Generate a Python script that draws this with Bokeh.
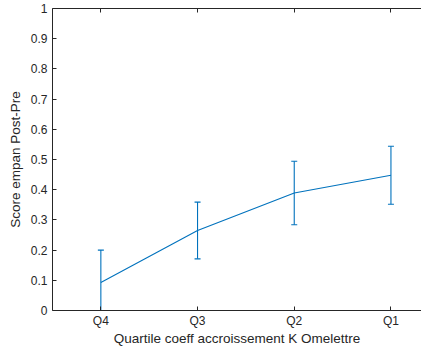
from bokeh.plotting import figure
from bokeh.models import FixedTicker, LinearAxis, Range1d, ColumnDataSource
from bokeh.embed import file_html
from bokeh.resources import INLINE

categories = ["Q4", "Q3", "Q2", "Q1"]
positions = [1, 2, 3, 4]
means = [0.093, 0.265, 0.389, 0.448]
errors = [0.107, 0.094, 0.105, 0.096]
y_ticks = [0, 0.1, 0.2, 0.3, 0.4, 0.5, 0.6, 0.7, 0.8, 0.9, 1.0]
y_tick_labels = ["0", "0.1", "0.2", "0.3", "0.4", "0.5", "0.6", "0.7", "0.8", "0.9", "1"]

lower = [m - e for m, e in zip(means, errors)]
upper = [m + e for m, e in zip(means, errors)]
src = ColumnDataSource(dict(x=positions, m=means, lo=lower, hi=upper))

BLUE = "#0072BD"
AX = "#262626"
FONT = "Liberation Sans"

p = figure(width=421, height=348, output_backend="svg", toolbar_location=None,
           x_range=Range1d(0.5, 4.316), y_range=Range1d(0, 1),
           min_border_left=52, min_border_right=0, min_border_top=8, min_border_bottom=34)
p.outline_line_color = None
p.xgrid.visible = False
p.ygrid.visible = False
p.background_fill_color = "white"
p.border_fill_color = "white"

p.line("x", "m", source=src, line_color=BLUE, line_width=1.1)
p.segment(x0="x", y0="lo", x1="x", y1="hi", source=src, line_color=BLUE, line_width=1.1)
p.scatter("x", "hi", source=src, marker="dash", size=6, line_color=BLUE, line_width=1.1)
p.scatter("x", "lo", source=src, marker="dash", size=6, line_color=BLUE, line_width=1.1)

xa = p.xaxis[0]
xa.ticker = FixedTicker(ticks=positions)
xa.major_label_overrides = {pos: c for pos, c in zip(positions, categories)}
xa.axis_label = "Quartile coeff accroissement K Omelettre"

ya = p.yaxis[0]
ya.ticker = FixedTicker(ticks=y_ticks)
ya.major_label_overrides = {t: l for t, l in zip(y_ticks, y_tick_labels)}
ya.axis_label = "Score empan Post-Pre"

for ax in (xa, ya):
    ax.axis_line_color = AX
    ax.major_tick_line_color = AX
    ax.major_tick_in = 4
    ax.major_tick_out = 0
    ax.minor_tick_line_color = None
    ax.major_label_text_font = FONT
    ax.major_label_text_font_size = "12px"
    ax.major_label_text_color = AX
    ax.axis_label_text_font = FONT
    ax.axis_label_text_font_size = "13.5px"
    ax.axis_label_text_color = AX
    ax.axis_label_text_font_style = "normal"

xa.major_label_standoff = 3
xa.axis_label_standoff = 0
ya.major_label_standoff = 5
ya.axis_label_standoff = 5

top = LinearAxis(ticker=FixedTicker(ticks=positions))
top.axis_line_color = AX
top.major_tick_line_color = AX
top.major_tick_in = 4
top.major_tick_out = 0
top.minor_tick_line_color = None
top.major_label_overrides = {pos: "" for pos in positions}
top.major_label_text_font_size = "1px"
top.major_label_standoff = 0
p.add_layout(top, "above")

open("out.html", "w").write(file_html(p, INLINE))
